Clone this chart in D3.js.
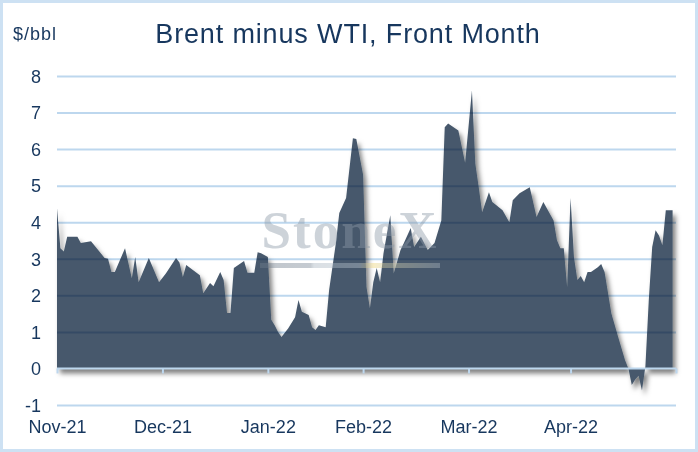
<!DOCTYPE html>
<html>
<head>
<meta charset="utf-8">
<script src="https://cdn.jsdelivr.net/npm/d3@7"></script>
<style>
  html, body { margin: 0; padding: 0; background: #fff; }
  svg { display: block; }
</style>
</head>
<body>
<div id="chart"></div>
<script>
// Brent minus WTI, front month spread ($/bbl)
const dates = [
  "2021-11-30","2021-12-01","2021-12-02","2021-12-03","2021-12-06","2021-12-07","2021-12-10",
  "2021-12-14","2021-12-15","2021-12-16","2021-12-17","2021-12-20","2021-12-22","2021-12-23",
  "2021-12-24","2021-12-27","2021-12-30","2022-01-01","2022-01-04","2022-01-05","2022-01-06",
  "2022-01-07","2022-01-11","2022-01-12","2022-01-14","2022-01-15","2022-01-17","2022-01-18",
  "2022-01-19","2022-01-20","2022-01-21","2022-01-24","2022-01-25","2022-01-27","2022-01-28",
  "2022-01-29","2022-01-31","2022-02-01","2022-02-02","2022-02-03","2022-02-04","2022-02-06",
  "2022-02-08","2022-02-09","2022-02-10","2022-02-12","2022-02-13","2022-02-14","2022-02-15",
  "2022-02-17","2022-02-18","2022-02-20","2022-02-21","2022-02-23","2022-02-25","2022-02-26",
  "2022-02-28","2022-03-01","2022-03-02","2022-03-03","2022-03-04","2022-03-05","2022-03-06",
  "2022-03-08","2022-03-09","2022-03-11","2022-03-12","2022-03-14","2022-03-15","2022-03-17",
  "2022-03-19","2022-03-21","2022-03-23","2022-03-24","2022-03-25","2022-03-28","2022-03-30",
  "2022-04-01","2022-04-02","2022-04-03","2022-04-04","2022-04-06","2022-04-07","2022-04-10",
  "2022-04-12","2022-04-13","2022-04-15","2022-04-18","2022-04-20","2022-04-22","2022-04-25",
  "2022-04-26","2022-04-27","2022-04-28","2022-04-29","2022-04-30","2022-05-01","2022-05-02",
  "2022-05-03","2022-05-04","2022-05-05","2022-05-06","2022-05-08","2022-05-09","2022-05-10",
  "2022-05-12","2022-05-14","2022-05-16","2022-05-17","2022-05-18","2022-05-19","2022-05-20",
  "2022-05-21","2022-05-22","2022-05-23","2022-05-24","2022-05-25","2022-05-26","2022-05-27",
  "2022-05-28","2022-05-30"
];
const spread = [
  4.38, 3.29, 3.20, 3.60, 3.60, 3.43, 3.48,
  3.02, 3.00, 2.64, 2.64, 3.29, 2.47, 3.05,
  2.36, 3.02, 2.36, 2.60, 3.02, 2.90, 2.50,
  2.83, 2.55, 2.06, 2.34, 2.25, 2.64, 2.42,
  1.52, 1.52, 2.75, 2.94, 2.62, 2.62, 3.18,
  3.15, 3.05, 1.33, 1.18, 1.00, 0.86, 1.10,
  1.40, 1.87, 1.55, 1.46, 1.13, 1.05, 1.18,
  1.13, 2.14, 3.43, 4.25, 4.66, 6.30, 6.28,
  5.30, 2.23, 1.65, 2.36, 2.75, 2.36, 3.15,
  4.19, 2.60, 3.24, 3.43, 3.84, 3.32, 3.60,
  3.24, 3.43, 4.05, 6.60, 6.70, 6.51, 5.63,
  7.60, 5.60, 4.96, 4.27, 4.82, 4.55, 4.33,
  4.00, 4.60, 4.79, 4.96, 4.14, 4.55, 4.05,
  3.51, 3.29, 3.29, 2.23, 4.66, 3.05, 2.42,
  2.53, 2.36, 2.64, 2.64, 2.77, 2.86, 2.64,
  1.50, 0.86, 0.23, 0.00, -0.45, -0.30, -0.20,
  -0.60, 0.05, 1.87, 3.32, 3.78, 3.64, 3.37,
  4.33, 4.33
];

const tickDates = ["2021-11-30","2021-12-31","2022-01-31","2022-02-28","2022-03-31","2022-04-30","2022-05-31"];
const tickLabels = ["Nov-21","Dec-21","Jan-22","Feb-22","Mar-22","Apr-22",""];
const yTicks = [-1, 0, 1, 2, 3, 4, 5, 6, 7, 8];

const COLORS = {
  text: "#17375e",
  grid: "#bdd7ee",
  area: "#47596c",
  frame: "#cde1f3",
  watermark: "#8d9aa8",
};

const W = 698, H = 452;
const parse = d3.utcParse("%Y-%m-%d");
const data = dates.map((d, i) => ({ date: parse(d), value: spread[i] }));

const svg = d3.select("#chart").append("svg")
  .attr("width", W)
  .attr("height", H)
  .style("font-family", "'Liberation Sans', Arial, sans-serif");

const defs = svg.append("defs");
const shadow = defs.append("filter")
  .attr("id", "shadow")
  .attr("x", "-5%").attr("y", "-5%")
  .attr("width", "115%").attr("height", "120%");
shadow.append("feDropShadow")
  .attr("dx", 3).attr("dy", 5)
  .attr("stdDeviation", 2.5)
  .attr("flood-color", "#000")
  .attr("flood-opacity", 0.5);

const barGrad = defs.append("linearGradient").attr("id", "wmbar");
barGrad.append("stop").attr("offset", "0%").attr("stop-color", "#6f7d8c");
barGrad.append("stop").attr("offset", "28%").attr("stop-color", "#7a8896");
barGrad.append("stop").attr("offset", "30%").attr("stop-color", "#a9b6c2");
barGrad.append("stop").attr("offset", "55%").attr("stop-color", "#b9c4ce");
barGrad.append("stop").attr("offset", "63%").attr("stop-color", "#f0d778");
barGrad.append("stop").attr("offset", "70%").attr("stop-color", "#d6d0a8");
barGrad.append("stop").attr("offset", "100%").attr("stop-color", "#a5b0bb");

// frame
svg.append("rect")
  .attr("x", 1.5).attr("y", 1.5)
  .attr("width", W - 3).attr("height", H - 3)
  .attr("fill", "#fff")
  .attr("stroke", COLORS.frame)
  .attr("stroke-width", 3);

const x = d3.scaleUtc()
  .domain([parse(tickDates[0]), parse(tickDates[tickDates.length - 1])])
  .range([57, 676]);

const y = d3.scaleLinear()
  .domain([-1, 8])
  .range([405, 76]);

// title and unit
svg.append("text")
  .attr("x", 348).attr("y", 43)
  .attr("text-anchor", "middle")
  .attr("fill", COLORS.text)
  .attr("font-size", "27px")
  .attr("letter-spacing", "0.85px")
  .text("Brent minus WTI, Front Month");

svg.append("text")
  .attr("x", 13).attr("y", 40)
  .attr("fill", COLORS.text)
  .attr("font-size", "18px")
  .attr("letter-spacing", "1px")
  .text("$/bbl");

// area
const area = d3.area()
  .x(d => x(d.date))
  .y0(y(0))
  .y1(d => y(d.value));

svg.append("path")
  .datum(data)
  .attr("d", area)
  .attr("fill", COLORS.area)
  .attr("filter", "url(#shadow)");

// gridlines drawn over the area
const grid = svg.append("g")
  .attr("transform", `translate(${x.range()[0]},0)`)
  .call(d3.axisLeft(y).tickValues(yTicks.filter(v => v !== 0))
    .tickSize(-(x.range()[1] - x.range()[0])).tickFormat(""));
grid.select(".domain").remove();
grid.selectAll(".tick line")
  .attr("stroke", COLORS.grid)
  .attr("stroke-width", 2)
  .style("mix-blend-mode", "multiply");

// translucent watermark on top of the plot
const wm = svg.append("g").attr("opacity", 0.43);
wm.append("text")
  .attr("x", 350).attr("y", 248)
  .attr("text-anchor", "middle")
  .attr("font-family", "'Liberation Serif', 'DejaVu Serif', serif")
  .attr("font-weight", "bold")
  .attr("font-size", "53px")
  .attr("letter-spacing", "2px")
  .attr("fill", COLORS.watermark)
  .text("StoneX");
wm.append("rect")
  .attr("x", 260).attr("y", 263)
  .attr("width", 180).attr("height", 5)
  .attr("fill", "url(#wmbar)");

// y labels
const yAxis = svg.append("g")
  .attr("transform", "translate(41,0)")
  .call(d3.axisLeft(y).tickValues(yTicks).tickSize(0).tickPadding(0).tickFormat(d => String(d)));
yAxis.select(".domain").remove();
yAxis.selectAll("text")
  .attr("fill", COLORS.text)
  .attr("font-size", "18px")
  .attr("font-family", "'Liberation Sans', Arial, sans-serif")
  .attr("dy", "0.35em");

// x axis on the zero line
const xAxis = svg.append("g")
  .attr("transform", `translate(0,${y(0)})`)
  .call(d3.axisBottom(x)
    .tickValues(tickDates.map(parse))
    .tickSize(5)
    .tickPadding(47)
    .tickFormat((d, i) => tickLabels[i]));
xAxis.select(".domain")
  .attr("stroke", COLORS.grid)
  .attr("stroke-width", 2)
  .attr("d", `M${x.range()[0]},0H${x.range()[1]}`);
xAxis.selectAll(".tick line")
  .attr("stroke", COLORS.grid)
  .attr("stroke-width", 2);
xAxis.selectAll("text")
  .attr("fill", COLORS.text)
  .attr("font-size", "18px")
  .attr("font-family", "'Liberation Sans', Arial, sans-serif");
</script>
</body>
</html>
